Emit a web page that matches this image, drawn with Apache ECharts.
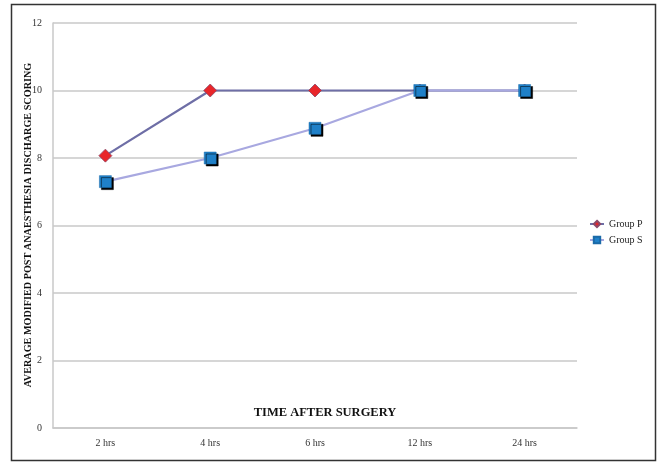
<!DOCTYPE html>
<html><head><meta charset="utf-8">
<script src="https://cdn.jsdelivr.net/npm/echarts@6/dist/echarts.min.js"></script>
<style>html,body{margin:0;padding:0;background:#fff}#c{width:657px;height:462px}</style>
</head><body><div id="c"></div>
<script>
const categories = ['2 hrs','4 hrs','6 hrs','12 hrs','24 hrs'];
const groupP = [8.07, 10, 10, 10, 10];
const groupS = [7.3, 8.0, 8.88, 10, 10];
const yTicks = [0, 2, 4, 6, 8, 10, 12];

const chart = echarts.init(document.getElementById('c'), null, {renderer:'canvas'});
const serif = '"Liberation Serif","DejaVu Serif",serif';
chart.setOption({
  animation: false,
  backgroundColor: '#fff',
  graphic: [{
    type: 'rect', shape: {x: 11.5, y: 4.5, width: 644, height: 456},
    style: {fill: 'none', stroke: '#333', lineWidth: 1.5}, silent: true
  }, {
    type: 'text', x: 325, y: 413,
    style: {text: 'TIME AFTER SURGERY', font: 'bold 12.5px ' + serif, fill: '#111',
      align: 'center', verticalAlign: 'middle'}
  }, {
    type: 'text', x: 28, y: 225, rotation: Math.PI / 2,
    style: {text: 'AVERAGE MODIFIED POST ANAESTHESIA DISCHARGE SCORING',
      font: 'bold 10.2px ' + serif, fill: '#111', align: 'center', verticalAlign: 'middle'}
  }],
  grid: {left: 53, right: 80, top: 23, bottom: 34},
  legend: {
    orient: 'vertical', left: 584, top: 214, itemGap: 6,
    itemWidth: 14, itemHeight: 8,
    textStyle: {fontFamily: serif, fontSize: 10, color: '#222'},
    data: ['Group P', 'Group S']
  },
  xAxis: {
    type: 'category', data: categories, boundaryGap: true,
    axisLine: {lineStyle: {color: '#c8c8c8', width: 1.5}},
    axisTick: {show: false},
    axisLabel: {fontFamily: serif, fontSize: 10, color: '#333', margin: 10}
  },
  yAxis: {
    type: 'value', min: 0, max: 12, interval: 2,
    axisLine: {show: true, lineStyle: {color: '#c8c8c8', width: 1.5}},
    axisTick: {show: false},
    axisLabel: {fontFamily: serif, fontSize: 10, color: '#333', margin: 11,
      formatter: v => yTicks.includes(v) ? String(v) : ''},
    splitLine: {lineStyle: {color: '#c8c8c8', width: 1.5}}
  },
  series: [{
    name: 'Group P', type: 'line', data: groupP,
    symbol: 'diamond', symbolSize: 13,
    lineStyle: {color: '#6e6ea6', width: 2.2},
    itemStyle: {color: '#e8262a', borderColor: '#8a4a6a', borderWidth: 0.8},
    z: 2
  }, {
    name: 'Group S', type: 'line', data: groupS,
    symbol: 'rect', symbolSize: 12,
    lineStyle: {color: '#a8a8e0', width: 2.2},
    itemStyle: {color: '#1f80c8', borderColor: '#1a6aa8', borderWidth: 0.5,
      shadowColor: '#000', shadowOffsetX: 2, shadowOffsetY: 2, shadowBlur: 0},
    z: 3
  }]
});
</script></body></html>
